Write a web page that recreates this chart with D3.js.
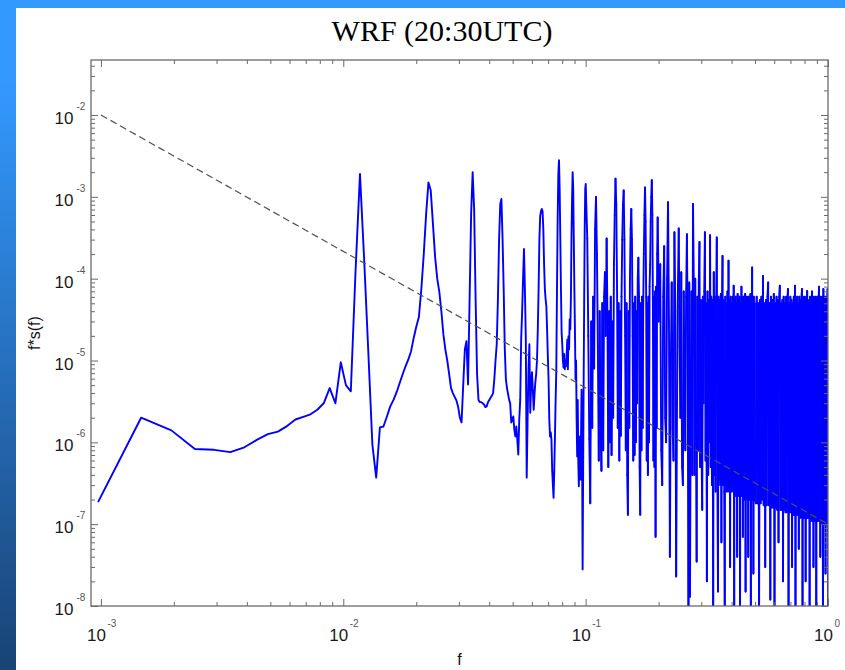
<!DOCTYPE html>
<html>
<head>
<meta charset="utf-8">
<script src="https://cdn.jsdelivr.net/npm/d3@7"></script>
<style>
  html, body { margin: 0; padding: 0; background: #fff; }
  svg { display: block; }
  .tick-num { font-family: "Liberation Sans", Arial, Helvetica, sans-serif; font-size: 17px; fill: #1a1a1a; }
  .tick-exp { font-family: "Liberation Sans", Arial, Helvetica, sans-serif; font-size: 10px; fill: #555; }
  .axis-title { font-family: "Liberation Sans", Arial, Helvetica, sans-serif; font-size: 16px; fill: #111; }
  .title { font-family: "Liberation Serif", "Times New Roman", Times, serif; font-size: 30px; fill: #000; }
</style>
</head>
<body>
<svg id="chart" width="845" height="670"></svg>
<script>
// Power spectrum f*S(f) of the WRF series; frequency bins are 1/2048 wide.
const binWidth = 1 / 2048;

// bins 2..100, every bin
const powerLow = [
  1.9e-7, 2.0e-6, 1.4e-6, 8.3e-7, 8.1e-7, 7.6e-7, 8.7e-7, 1.07e-6, 1.26e-6, 1.35e-6,
  1.58e-6, 1.9e-6, 2.05e-6, 2.2e-6, 2.5e-6, 3.0e-6, 4.6e-6, 3.0e-6, 9.5e-6, 5.0e-6,
  4.2e-6, 1.2e-4, 1.9e-3, 1.6e-4, 1.2e-5, 9.4e-7, 3.7e-7, 1.52e-6, 1.56e-6, 2.07e-6,
  2.75e-6, 3.3e-6, 4.1e-6, 5.3e-6, 6.8e-6, 8.5e-6, 1.03e-5, 1.3e-5, 1.9e-5, 2.6e-5,
  3.4e-5, 7.5e-5, 2.0e-4, 6.2e-4, 1.5e-3, 1.2e-3, 4.7e-4, 1.84e-4, 1.0e-4, 6.9e-5,
  4.0e-5, 2.1e-5, 1.37e-5, 1.0e-5, 6.8e-6, 4.6e-6, 4.0e-6, 3.6e-6, 3.25e-6, 2.7e-6,
  2.0e-6, 1.75e-6, 5.0e-6, 1.37e-5, 1.72e-5, 5.1e-6, 5.6e-5, 6.2e-4, 2.0e-3, 7.1e-4,
  5.6e-5, 6.8e-6, 3.3e-6, 3.1e-6, 3.1e-6, 3.0e-6, 2.9e-6, 2.7e-6, 2.75e-6, 3.1e-6,
  3.3e-6, 3.5e-6, 3.7e-6, 4.0e-6, 5.9e-6, 1.0e-5, 1.58e-5, 5.6e-5, 3.06e-4, 8.2e-4,
  9.4e-4, 3.1e-4, 7.5e-5, 1.37e-5, 5.9e-6, 4.6e-6, 3.9e-6, 3.3e-6, 3.0e-6
];

// bins 101..206, every bin
const powerMid = [
  1.75e-6, 1.9e-6, 2.07e-6, 1.44e-6, 1.18e-6, 1.56e-6, 1.08e-6, 7.1e-7, 1.9e-6, 3.3e-6,
  1.82e-5, 3.9e-5, 1.0e-4, 2.3e-4, 7.5e-5, 1.8e-5, 3.7e-7, 1.9e-6, 7.8e-6, 1.58e-5,
  2.3e-6, 5.1e-6, 7.2e-6, 4.4e-6, 2.5e-6, 3.85e-6, 5.4e-6, 6.8e-6, 1.0e-5, 2.4e-5,
  7.5e-5, 3.1e-4, 5.85e-4, 6.7e-4, 7.1e-4, 6.7e-4, 4.05e-4, 1.5e-4, 7.5e-5, 5.6e-5,
  4.6e-5, 2.4e-5, 1.13e-5, 5.9e-6, 1.9e-6, 1.18e-6, 1.32e-6, 1.08e-6, 4.6e-7, 3.04e-7,
  2.1e-7, 4.6e-7, 1.18e-6, 3.3e-6, 7.8e-6, 7.5e-5, 5.4e-4, 1.9e-3, 2.8e-3, 1.25e-3,
  3.1e-4, 7.5e-5, 2.2e-5, 1.58e-5, 1.0e-5, 8.2e-6, 1.2e-5, 7.8e-6, 9.8e-6, 8.5e-6,
  1.13e-5, 1.8e-5, 7.8e-6, 1.98e-5, 1.37e-5, 3.2e-5, 2.4e-5, 5.6e-5, 3.1e-4, 9.4e-4,
  2.0e-3, 1.25e-3, 3.1e-4, 7.5e-5, 2.4e-5, 5.9e-6, 1.0e-5, 1.9e-6, 6.7e-7, 3.3e-6,
  5.65e-7, 2.9e-7, 1.08e-6, 1.18e-6, 3.5e-7, 1.2e-6, 4.4e-6, 8.2e-7, 2.8e-8, 4.6e-7,
  5.9e-6, 5.6e-5, 4.05e-4, 1.25e-3, 1.44e-3, 8.2e-4
];

// bins 208..410, every 2nd bin
const powerBand = [
  3.1e-4, 2.0e-5, 1.1e-6, 1.8e-7, 3.0e-5, 1.5e-6, 6.0e-5, 8.0e-6, 4.0e-4, 1.0e-3,
  2.0e-4, 1.5e-5, 6.0e-7, 4.0e-5, 1.5e-6, 4.5e-7, 5.0e-5, 8.0e-7, 6.0e-5, 1.2e-4,
  2.0e-5, 3.1e-4, 3.0e-5, 5.0e-7, 4.0e-5, 1.0e-6, 6.0e-5, 7.0e-7, 3.0e-5, 2.0e-6,
  1.5e-4, 6.0e-4, 1.66e-3, 8.0e-4, 8.0e-5, 1.5e-6, 5.0e-5, 6.0e-7, 4.0e-5, 1.2e-6,
  6.0e-5, 3.0e-4, 8.0e-4, 1.2e-3, 3.0e-4, 2.0e-5, 8.0e-7, 5.0e-5, 4.0e-7, 1.3e-7,
  4.0e-5, 1.5e-6, 1.0e-4, 4.0e-4, 7.1e-4, 3.0e-4, 2.0e-5, 6.0e-7, 5.0e-5, 7.0e-7,
  6.0e-5, 1.0e-6, 4.0e-5, 3.0e-6, 1.0e-4, 1.8e-4, 6.0e-5, 5.0e-7, 1.3e-7, 5.0e-5,
  8.0e-7, 6.0e-5, 1.5e-6, 5.0e-5, 2.0e-4, 6.0e-4, 1.3e-3, 5.0e-4, 6.0e-5, 6.0e-7,
  5.0e-5, 4.0e-7, 6.0e-5, 1.0e-6, 8.0e-5, 1.5e-4, 5.0e-4, 1.0e-3, 1.6e-3, 6.0e-4,
  5.0e-5, 6.0e-7, 6.0e-5, 5.0e-7, 7.0e-5, 7.0e-8, 8.0e-5, 1.5e-6, 2.0e-4, 5.6e-4,
  2.0e-4, 3.0e-5
];

// bins 416..1024, every 4th bin
const powerHigh = [
  1.5e-4, 8.0e-7, 3.0e-7, 6.0e-5, 2.5e-4, 2.0e-6, 1.0e-6, 1.0e-4, 8.6e-4, 3.0e-5,
  4.0e-8, 8.0e-6, 9.0e-5, 1.5e-6, 6.0e-7, 3.7e-4, 4.0e-5, 2.3e-8, 3.0e-6, 7.0e-5,
  4.1e-4, 1.5e-5, 2.0e-6, 1.2e-4, 5.0e-7, 3.0e-7, 7.0e-5, 4.0e-6, 8.0e-7, 6.0e-5,
  3.5e-4, 2.0e-5, 5.0e-9, 9.0e-5, 1.3e-8, 5.0e-6, 7.0e-5, 4.0e-7, 8.2e-4, 1.0e-4,
  4.0e-7, 1.0e-4, 2.0e-6, 3.5e-8, 6.0e-5, 8.0e-7, 9.0e-5, 2.8e-4, 5.0e-7, 5.5e-5,
  8.0e-7, 1.5e-7, 6.0e-5, 3.0e-6, 7.0e-5, 3.7e-4, 6.0e-7, 5.0e-5, 2.0e-8, 7.0e-5,
  4.0e-7, 5.5e-5, 1.0e-6, 3.4e-4, 5.0e-7, 6.0e-5, 3.0e-7, 5.5e-5, 5.0e-9, 1.2e-4,
  4.0e-7, 6.0e-5, 2.5e-7, 5.0e-5, 3.2e-4, 4.0e-7, 1.5e-8, 6.0e-5, 3.5e-7, 5.5e-5,
  3.0e-7, 6.5e-5, 6.0e-8, 5.0e-5, 1.9e-4, 3.0e-7, 5.5e-5, 2.5e-7, 8.0e-9, 6.0e-5,
  3.0e-7, 5.0e-5, 2.5e-7, 7.0e-5, 3.0e-7, 1.66e-4, 2.5e-7, 5.5e-5, 3.0e-8, 6.0e-5,
  2.5e-7, 5.0e-5, 3.0e-7, 6.0e-5, 2.5e-7, 8.2e-5, 1.0e-8, 5.5e-5, 2.5e-7, 6.0e-5,
  2.2e-7, 5.0e-5, 4.0e-8, 6.5e-5, 2.5e-7, 5.5e-5, 2.2e-7, 6.0e-5, 5.0e-9, 5.0e-5,
  2.5e-7, 8.0e-5, 2.2e-7, 5.5e-5, 7.0e-8, 6.0e-5, 2.2e-7, 5.0e-5, 2.0e-7, 6.5e-5,
  1.5e-8, 5.5e-5, 2.2e-7, 6.0e-5, 2.0e-7, 5.0e-5, 4.0e-8, 6.0e-5, 2.0e-7, 5.5e-5,
  2.0e-7, 6.5e-5, 6.0e-9, 5.0e-5, 2.0e-7, 1.37e-4, 2.0e-7, 5.5e-5, 2.5e-8, 6.0e-5,
  2.0e-7, 5.0e-5, 2.0e-7
];

// bins 1032..2048, every 8th bin
const powerTail = [
  1.8e-7, 6.0e-5, 1.8e-7, 5.0e-5, 6.0e-9, 5.5e-5, 1.8e-7, 6.0e-5, 2.0e-7, 1.08e-4,
  1.7e-7, 5.0e-5, 3.0e-8, 5.5e-5, 1.7e-7, 6.0e-5, 9.0e-5, 1.7e-7, 5.0e-5, 1.2e-8,
  6.0e-5, 1.6e-7, 5.5e-5, 1.6e-7, 6.5e-5, 5.0e-9, 5.0e-5, 1.6e-7, 6.0e-5, 1.5e-7,
  5.5e-5, 6.0e-8, 6.0e-5, 8.2e-5, 1.5e-7, 5.0e-5, 1.5e-7, 5.5e-5, 2.0e-8, 6.0e-5,
  1.5e-7, 5.0e-5, 1.4e-7, 6.0e-5, 1.4e-7, 5.5e-5, 7.5e-5, 4.0e-9, 5.0e-5, 1.4e-7,
  6.0e-5, 1.4e-7, 5.5e-5, 3.0e-8, 5.0e-5, 1.3e-7, 6.0e-5, 1.3e-7, 8.2e-5, 8.0e-9,
  5.5e-5, 1.3e-7, 6.0e-5, 1.3e-7, 5.0e-5, 5.0e-8, 6.0e-5, 1.3e-7, 5.5e-5, 1.2e-7,
  6.0e-5, 7.5e-5, 5.0e-9, 5.0e-5, 1.2e-7, 6.0e-5, 1.2e-7, 5.5e-5, 2.0e-8, 6.0e-5,
  1.2e-7, 7.1e-5, 1.2e-7, 5.0e-5, 1.2e-7, 5.5e-5, 6.0e-9, 6.0e-5, 1.2e-7, 5.0e-5,
  1.1e-7, 7.0e-5, 1.1e-7, 5.5e-5, 3.0e-8, 6.0e-5, 1.1e-7, 5.0e-5, 1.1e-7, 6.0e-5,
  5.0e-9, 5.5e-5, 1.1e-7, 6.0e-5, 1.1e-7, 5.0e-5, 8.0e-5, 1.1e-7, 5.5e-5, 4.0e-8,
  6.0e-5, 1.1e-7, 5.0e-5, 1.0e-7, 6.0e-5, 7.0e-9, 7.5e-5, 1.0e-7, 5.5e-5, 1.0e-7,
  6.0e-5, 2.5e-8, 5.0e-5, 1.0e-7, 6.0e-5, 1.0e-7, 7.5e-5, 5.0e-9
];

const segments = [
  { firstBin: 2,    binStep: 1, values: powerLow },
  { firstBin: 101,  binStep: 1, values: powerMid },
  { firstBin: 208,  binStep: 2, values: powerBand },
  { firstBin: 416,  binStep: 4, values: powerHigh },
  { firstBin: 1032, binStep: 8, values: powerTail }
];

// f^(-5/3) reference line
const refFreq = [1e-3, 1];
const refPower = [1e-2, 1e-7];

const xTickExponents = [-3, -2, -1, 0];
const yTickExponents = [-8, -7, -6, -5, -4, -3, -2];
const titleText = "WRF (20:30UTC)";
const xTitle = "f";
const yTitle = "f*s(f)";

// ---------------------------------------------------------------
const W = 845, H = 670;
const plot = { left: 91, top: 60, right: 828, bottom: 606 };
const xDomain = [9.1e-4, 1];
const yDomain = [1e-8, 0.047];
const lineColor = "#0000ff";
const lineWidth = 1.9;

const svg = d3.select("#chart");

// slide background: blue gradient frame with a white panel
const defs = svg.append("defs");
const grad = defs.append("linearGradient")
  .attr("id", "bg").attr("x1", 0).attr("y1", 0).attr("x2", 0).attr("y2", 1);
grad.append("stop").attr("offset", 0).attr("stop-color", "#3399ff");
grad.append("stop").attr("offset", 0.12).attr("stop-color", "#3399ff");
grad.append("stop").attr("offset", 1).attr("stop-color", "#184375");
svg.append("rect").attr("width", W).attr("height", H).attr("fill", "url(#bg)");
svg.append("rect").attr("x", 16).attr("y", 8).attr("width", W - 16).attr("height", H - 8).attr("fill", "#fff");

defs.append("clipPath").attr("id", "plotClip")
  .append("rect")
  .attr("x", plot.left).attr("y", plot.top)
  .attr("width", plot.right - plot.left).attr("height", plot.bottom - plot.top);

const x = d3.scaleLog().domain(xDomain).range([plot.left, plot.right]);
const y = d3.scaleLog().domain(yDomain).range([plot.bottom, plot.top]);

const spectrum = segments.flatMap(s =>
  s.values.map((p, i) => ({ f: (s.firstBin + i * s.binStep) * binWidth, p }))
);

const line = d3.line().x(d => x(d.f)).y(d => y(d.p));

const dataLayer = svg.append("g").attr("clip-path", "url(#plotClip)");

// resolved low-frequency part: one smooth polyline
const denseStart = powerLow.length + powerMid.length;
dataLayer.append("path")
  .datum(spectrum.slice(0, denseStart + 1))
  .attr("d", line)
  .attr("fill", "none")
  .attr("stroke", lineColor)
  .attr("stroke-width", lineWidth)
  .attr("stroke-linejoin", "round")
  .attr("stroke-linecap", "round");

// dense high-frequency part: each step drawn as its own segment so the
// closely packed strokes add up to a solid band
dataLayer.append("g")
  .selectAll("line")
  .data(d3.pairs(spectrum.slice(denseStart)))
  .join("line")
  .attr("x1", d => x(d[0].f)).attr("y1", d => y(d[0].p))
  .attr("x2", d => x(d[1].f)).attr("y2", d => y(d[1].p))
  .attr("stroke", lineColor)
  .attr("stroke-width", lineWidth)
  .attr("stroke-linecap", "round");

dataLayer.append("path")
  .datum(refFreq.map((f, i) => ({ f, p: refPower[i] })))
  .attr("d", line)
  .attr("fill", "none")
  .attr("stroke", "#505050")
  .attr("stroke-width", 1.2)
  .attr("stroke-dasharray", "7,4");

// ticks on all four sides, pointing inward
const majorX = xTickExponents.map(e => Math.pow(10, e));
const majorY = yTickExponents.map(e => Math.pow(10, e));
function minors(domain) {
  const out = [];
  const lo = Math.floor(Math.log10(domain[0])), hi = Math.ceil(Math.log10(domain[1]));
  for (let e = lo; e <= hi; e++) {
    for (let m = 2; m <= 9; m++) {
      const v = m * Math.pow(10, e);
      if (v >= domain[0] && v <= domain[1]) out.push(v);
    }
  }
  return out;
}
const minorX = minors(xDomain);
const minorY = minors(yDomain);

const axisColor = "#6a6a6a";
function drawAxis(gen, tx, ty, values, size) {
  const g = svg.append("g").attr("transform", `translate(${tx},${ty})`)
    .call(gen.tickValues(values).tickSizeInner(-size).tickSizeOuter(0).tickFormat(() => ""));
  g.select(".domain").remove();
  g.selectAll(".tick line").attr("stroke", axisColor).attr("stroke-width", 1);
}
drawAxis(d3.axisBottom(x), 0, plot.bottom, majorX, 7);
drawAxis(d3.axisBottom(x), 0, plot.bottom, minorX, 4);
drawAxis(d3.axisTop(x), 0, plot.top, majorX, 7);
drawAxis(d3.axisTop(x), 0, plot.top, minorX, 4);
drawAxis(d3.axisLeft(y), plot.left, 0, majorY, 7);
drawAxis(d3.axisLeft(y), plot.left, 0, minorY, 4);
drawAxis(d3.axisRight(y), plot.right, 0, majorY, 7);
drawAxis(d3.axisRight(y), plot.right, 0, minorY, 4);

svg.append("rect")
  .attr("x", plot.left).attr("y", plot.top)
  .attr("width", plot.right - plot.left).attr("height", plot.bottom - plot.top)
  .attr("fill", "none").attr("stroke", axisColor).attr("stroke-width", 1.3);

// tick labels as 10 with a raised exponent
const labels = svg.append("g");
yTickExponents.forEach(e => {
  const ty = y(Math.pow(10, e));
  labels.append("text").attr("class", "tick-num")
    .attr("x", 73.5).attr("y", ty + 9).attr("text-anchor", "end").text("10");
  labels.append("text").attr("class", "tick-exp")
    .attr("x", 76.5).attr("y", ty - 5).text(String(e));
});
xTickExponents.forEach(e => {
  const tx = x(Math.pow(10, e));
  labels.append("text").attr("class", "tick-num")
    .attr("x", tx + 5).attr("y", 640.5).attr("text-anchor", "end").text("10");
  labels.append("text").attr("class", "tick-exp")
    .attr("x", tx + 6.5).attr("y", 626.5).text(String(e));
});

svg.append("text").attr("class", "axis-title")
  .attr("x", (plot.left + plot.right) / 2).attr("y", 665)
  .attr("text-anchor", "middle").text(xTitle);

svg.append("text").attr("class", "axis-title")
  .attr("transform", `translate(40,${(plot.top + plot.bottom) / 2}) rotate(-90)`)
  .attr("text-anchor", "middle").text(yTitle);

svg.append("text").attr("class", "title")
  .attr("x", 442).attr("y", 41)
  .attr("text-anchor", "middle").text(titleText);
</script>
</body>
</html>
